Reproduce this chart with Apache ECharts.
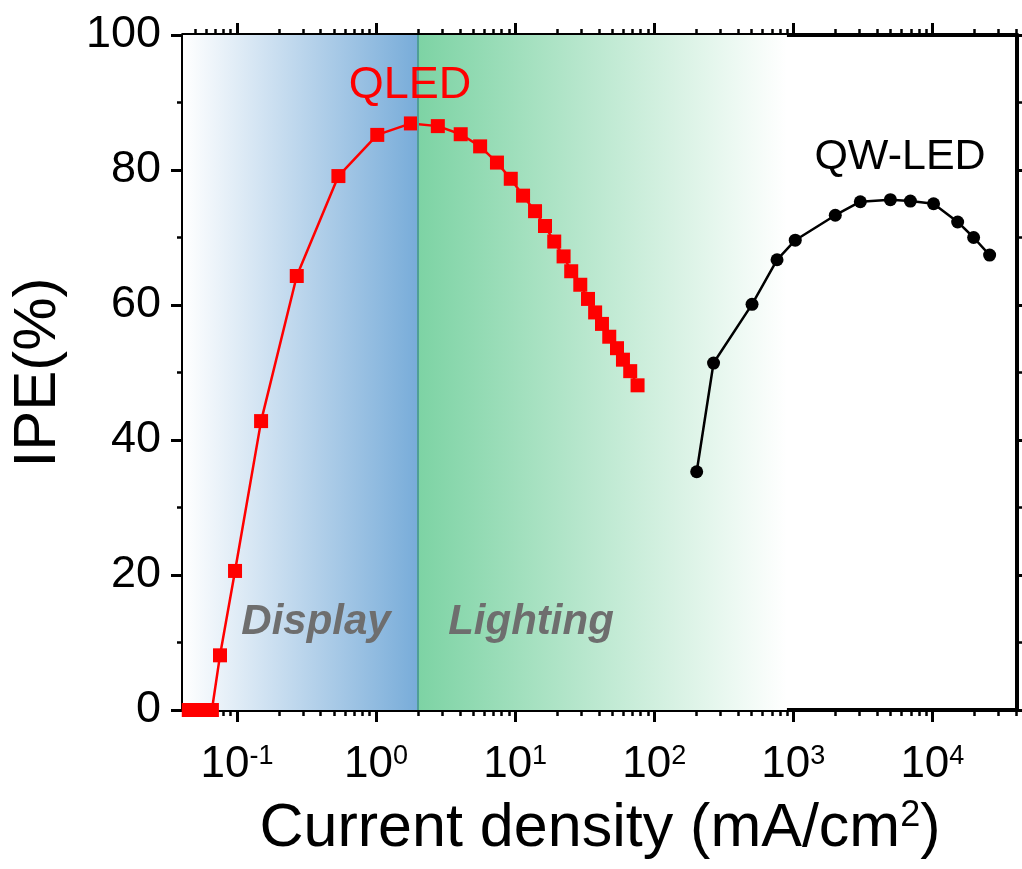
<!DOCTYPE html>
<html><head><meta charset="utf-8">
<script src="https://cdn.jsdelivr.net/npm/echarts@6/dist/echarts.min.js"></script>
<style>html,body{margin:0;padding:0;background:#fff}#c{width:1022px;height:869px}</style>
</head><body><div id="c"></div>
<script>
// ---- data ----
const qledX = [0.045, 0.052, 0.059, 0.066, 0.0755, 0.0968, 0.149, 0.269, 0.536, 1.02, 1.78, 2.78, 4.06, 5.6, 7.4, 9.3, 11.4, 13.9, 16.4, 19.1, 22.3, 25.3, 29.4, 33.4, 37.6, 42.1, 47.5, 54.0, 59.6, 67.2, 75.9];
const qledY = [0, 0, 0, 0, 8.1, 20.6, 42.8, 64.3, 79.1, 85.2, 86.9, 86.5, 85.3, 83.5, 81.1, 78.7, 76.2, 73.9, 71.7, 69.4, 67.2, 65.0, 63.0, 60.9, 58.9, 57.2, 55.3, 53.6, 51.9, 50.2, 48.1];
const qwX = [202, 267, 505, 764, 1033, 2004, 3033, 4990, 6950, 10200, 15200, 19800, 25800];
const qwY = [35.3, 51.4, 60.1, 66.7, 69.6, 73.3, 75.3, 75.6, 75.4, 75.0, 72.3, 70.0, 67.4];
const xMajorTicks = [0.1, 1, 10, 100, 1000, 10000];
const decadeStarts = [0.01, 0.1, 1, 10, 100, 1000, 10000];
const minorMultipliers = [2, 3, 4, 5, 6, 7, 8, 9];
const displayRange = [0.0409, 2];
const lightingRange = [2, 900];
const X_MIN = 0.0409, X_MAX = 40600;
const Y_MIN = 0, Y_MAX = 100, Y_STEP = 20;

const minorTicks = [];
decadeStarts.forEach(d => minorMultipliers.forEach(k => {
  const v = +(d * k).toPrecision(3);
  if (v > X_MIN && v < X_MAX) minorTicks.push(v);
}));

const FONT = 'Liberation Sans, Arial, Helvetica, sans-serif';
const chart = echarts.init(document.getElementById('c'), null, {renderer: 'canvas'});

function xAxisDef(pos, major, withLine, showLabel) {
  return {
    type: 'log', logBase: 10, min: X_MIN, max: X_MAX, position: pos, gridIndex: 0,
    splitLine: {show: false}, minorTick: {show: false}, minorSplitLine: {show: false},
    axisLine: {show: withLine, onZero: false, lineStyle: {color: '#000', width: 4}},
    axisTick: {show: true, inside: false, customValues: major ? xMajorTicks : minorTicks,
      length: major ? 12 : 6, lineStyle: {color: '#000', width: major ? 3 : 2.5}},
    axisLabel: showLabel ? {
      show: true, customValues: xMajorTicks, margin: 33, color: '#000', fontFamily: FONT,
      formatter: v => '{b|10}{s|' + Math.round(Math.log10(v)) + '}',
      rich: {
        b: {fontSize: 44, fontFamily: FONT, color: '#000', lineHeight: 44},
        s: {fontSize: 27, fontFamily: FONT, color: '#000', verticalAlign: 'top', lineHeight: 27}
      }
    } : {show: false}
  };
}

const xBottom = xAxisDef('bottom', true, true, true);
xBottom.name = '{t|Current density (mA/cm}{s|2}{t|)}';
xBottom.nameLocation = 'middle';
xBottom.nameGap = 88;
xBottom.nameMoveOverlap = false;
xBottom.nameTextStyle = {
  rich: {
    t: {fontSize: 61, fontFamily: FONT, color: '#000', lineHeight: 62},
    s: {fontSize: 36, fontFamily: FONT, color: '#000', verticalAlign: 'top', lineHeight: 36}
  }
};

function yAxisDef(pos, showLabel) {
  return {
    type: 'value', min: Y_MIN, max: Y_MAX, interval: Y_STEP, position: pos,
    splitLine: {show: false},
    axisLine: {show: true, onZero: false, lineStyle: {color: '#000', width: 4}},
    axisTick: {show: true, inside: false, length: 12, lineStyle: {color: '#000', width: 3}},
    minorTick: {show: true, splitNumber: 2, length: 6, lineStyle: {color: '#000', width: 2.5}},
    axisLabel: showLabel ? {show: true, fontSize: 45, fontFamily: FONT, color: '#000', margin: 22} : {show: false}
  };
}
const yLeft = yAxisDef('left', true);
yLeft.name = 'IPE(%)';
yLeft.nameLocation = 'middle';
yLeft.nameRotate = 90;
yLeft.nameGap = 115;
yLeft.nameMoveOverlap = false;
yLeft.nameTextStyle = {fontSize: 60, fontFamily: FONT, color: '#000'};

const option = {
  backgroundColor: '#fff',
  animation: false,
  grid: {left: 183, right: 5, top: 35, bottom: 159, containLabel: false, outerBoundsMode: 'none'},
  xAxis: [
    xBottom,
    xAxisDef('top', true, true, false),
    xAxisDef('top', false, false, false),    // flips to bottom
    xAxisDef('bottom', false, false, false)  // flips to top
  ],
  yAxis: [yLeft, yAxisDef('right', false)],
  series: [
    {
      type: 'line', xAxisIndex: 0, yAxisIndex: 0, data: [], z: 1, silent: true,
      markArea: {
        silent: true,
        data: [
          [{xAxis: displayRange[0], itemStyle: {color: {type: 'linear', x: 0, y: 0, x2: 1, y2: 0,
              colorStops: [{offset: 0, color: '#ffffff'}, {offset: 1, color: '#78acd9'}]}}},
           {xAxis: displayRange[1]}],
          [{xAxis: lightingRange[0], itemStyle: {color: {type: 'linear', x: 0, y: 0, x2: 1, y2: 0,
              colorStops: [{offset: 0, color: '#7dd3a4'}, {offset: 1, color: '#ffffff'}]}}},
           {xAxis: lightingRange[1]}]
        ]
      },
      markLine: {
        silent: true, symbol: ['none', 'none'], label: {show: false},
        lineStyle: {color: '#4f9f96', width: 2, type: 'solid'},
        data: [{xAxis: displayRange[1]}]
      }
    },
    {
      name: 'QLED', type: 'line', xAxisIndex: 0, yAxisIndex: 0, z: 3,
      data: qledX.map((x, i) => [x, qledY[i]]),
      symbol: 'rect', symbolSize: 14, showAllSymbol: true,
      lineStyle: {color: '#ff0000', width: 2.5},
      itemStyle: {color: '#ff0000'}
    },
    {
      name: 'QW-LED', type: 'line', xAxisIndex: 0, yAxisIndex: 0, z: 3,
      data: qwX.map((x, i) => [x, qwY[i]]),
      symbol: 'circle', symbolSize: 13, showAllSymbol: true,
      lineStyle: {color: '#000', width: 2.5},
      itemStyle: {color: '#000'}
    }
  ],
  graphic: [
    {type: 'text', x: 410, y: 86, z: 10, style: {text: 'QLED', fill: '#ff0000', font: 'normal 45px ' + FONT, textAlign: 'center', textVerticalAlign: 'middle'}},
    {type: 'text', x: 900, y: 157, z: 10, style: {text: 'QW-LED', fill: '#000', font: 'normal 43px ' + FONT, textAlign: 'center', textVerticalAlign: 'middle'}},
    {type: 'text', x: 316, y: 622, z: 10, style: {text: 'Display', fill: '#6e6e6e', font: 'italic bold 42px ' + FONT, textAlign: 'center', textVerticalAlign: 'middle'}},
    {type: 'text', x: 531, y: 622, z: 10, style: {text: 'Lighting', fill: '#6e6e6e', font: 'italic bold 42px ' + FONT, textAlign: 'center', textVerticalAlign: 'middle'}}
  ]
};
chart.setOption(option);
</script>
</body></html>
